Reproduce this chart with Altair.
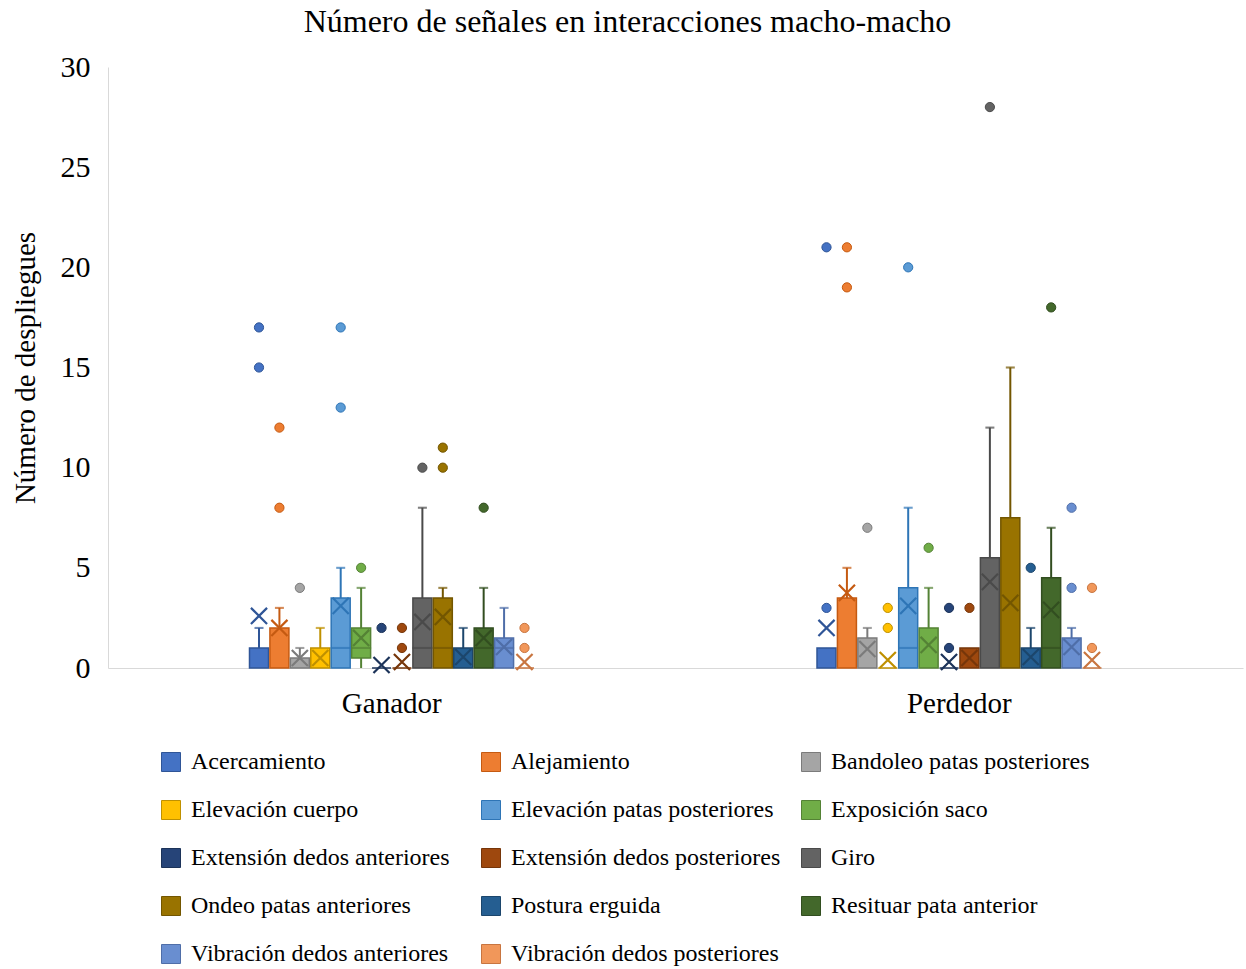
import altair as alt
import pandas as pd

FONT = "Liberation Serif"

groups = ["Ganador", "Perdedor"]
series = [
    "Acercamiento", "Alejamiento", "Bandoleo patas posteriores",
    "Elevación cuerpo", "Elevación patas posteriores", "Exposición saco",
    "Extensión dedos anteriores", "Extensión dedos posteriores", "Giro",
    "Ondeo patas anteriores", "Postura erguida", "Resituar pata anterior",
    "Vibración dedos anteriores", "Vibración dedos posteriores",
]

# Ganador statistics
g_lo = [0, 0, 0, 0, 0, 0, 0, 0, 0, 0, 0, 0, 0, 0]
g_q1 = [0, 0, 0, 0, 0, 0.5, 0, 0, 0, 0, 0, 0, 0, 0]
g_med = [0, 0, 0, 0, 1, 1, 0, 0, 1, 1, 0, 1, 1, 0]
g_q3 = [1, 2, 0.5, 1, 3.5, 2, 0, 0, 3.5, 3.5, 1, 2, 1.5, 0]
g_hi = [2, 3, 1, 2, 5, 4, 0, 0, 8, 4, 2, 4, 3, 0]
g_mean = [2.6, 2.0, 0.5, 0.5, 3.1, 1.5, 0.15, 0.3, 2.3, 2.55, 0.55, 1.5, 1.05, 0.3]
g_out = [[15, 17], [8, 12], [4], [], [13, 17], [5], [2], [1, 2], [10], [10, 11], [], [8], [], [1, 2]]

# Perdedor statistics
p_lo = [0, 0, 0, 0, 0, 0, 0, 0, 0, 0, 0, 0, 0, 0]
p_q1 = [0, 0, 0, 0, 0, 0, 0, 0, 0, 0, 0, 0, 0, 0]
p_med = [0, 0, 0, 0, 1, 0, 0, 0, 0, 0, 0, 1, 0, 0]
p_q3 = [1, 3.5, 1.5, 0, 4, 2, 0, 1, 5.5, 7.5, 1, 4.5, 1.5, 0]
p_hi = [1, 5, 2, 0, 8, 4, 0, 1, 12, 15, 2, 7, 2, 0]
p_mean = [2.0, 3.75, 0.95, 0.4, 3.1, 1.15, 0.3, 0.5, 4.3, 3.25, 0.55, 2.9, 1.05, 0.4]
p_out = [[3, 21], [19, 21], [7], [2, 3], [20], [6], [1, 3], [3], [28], [], [5], [18], [4, 8], [1, 4]]

fills = ["#4472C4", "#ED7D31", "#A5A5A5", "#FFC000", "#5B9BD5", "#70AD47",
         "#264478", "#9E480E", "#636363", "#997300", "#255E91", "#43682B",
         "#698ED0", "#F1975A"]
strokes = ["#2F5597", "#C55A11", "#7B7B7B", "#BF9000", "#2E75B6", "#548235",
           "#1C3359", "#76360A", "#4A4A4A", "#735600", "#1C466C", "#324E20",
           "#4F6EA8", "#C87540"]

rows = []
outs = []
for grp, lo, q1, med, q3, hi, mean, out in [
    ("Ganador", g_lo, g_q1, g_med, g_q3, g_hi, g_mean, g_out),
    ("Perdedor", p_lo, p_q1, p_med, p_q3, p_hi, p_mean, p_out),
]:
    for i, s in enumerate(series):
        rows.append(dict(group=grp, series=s, lo=lo[i], q1=q1[i], med=med[i],
                         q3=q3[i], hi=hi[i], mean=mean[i]))
        for v in out[i]:
            outs.append(dict(group=grp, series=s, value=v))

df = pd.DataFrame(rows)
dfo = pd.DataFrame(outs)

x_enc = alt.X("group:N", scale=alt.Scale(domain=groups, paddingInner=0, paddingOuter=0),
              axis=alt.Axis(title=None, labelAngle=0, ticks=False, domainColor="#D9D9D9",
                            domainWidth=1, labelFont=FONT, labelFontSize=29,
                            labelColor="#000000", labelPadding=21))
xo_enc = alt.XOffset("series:N", scale=alt.Scale(domain=series, range=[141.5, 426],
                                                 paddingInner=0.07, paddingOuter=0))
fill_scale = alt.Scale(domain=series, range=fills)
stroke_scale = alt.Scale(domain=series, range=strokes)

y_scale = alt.Scale(domain=[0, 30], nice=False, zero=True)
y_axis = alt.Axis(title="Número de despliegues", values=[0, 5, 10, 15, 20, 25, 30],
                  grid=False, ticks=False, domainColor="#D9D9D9", domainWidth=1,
                  labelFont=FONT, labelFontSize=30, labelColor="#000000", labelPadding=18,
                  titleFont=FONT, titleFontSize=29, titleFontWeight="normal",
                  titleColor="#000000", titlePadding=20)

legend = alt.Legend(title=None, orient="none", legendX=51, legendY=683,
                    direction="horizontal", columns=3, gridAlign="all",
                    symbolType="square", symbolSize=361, symbolStrokeWidth=1,
                    symbolOpacity=1,
                    labelFont=FONT, labelFontSize=24, labelColor="#000000",
                    labelOffset=8, columnPadding=18, rowPadding=24,
                    labelLimit=400)

stroke_enc = alt.Stroke("series:N", scale=stroke_scale, title=None)

base = alt.Chart(df)

whisk = base.mark_rule(strokeWidth=2).encode(
    x=x_enc, xOffset=xo_enc,
    y=alt.Y("lo:Q", scale=y_scale, axis=y_axis), y2="hi:Q",
    stroke=stroke_enc,
)

caps_hi = base.transform_filter("datum.hi > datum.q3").mark_tick(
    size=7, thickness=0.1, filled=False, strokeWidth=2).encode(
    x=x_enc, xOffset=xo_enc, y=alt.Y("hi:Q", scale=y_scale),
    stroke=stroke_enc,
)

boxes = base.mark_bar(strokeWidth=1.5).encode(
    x=x_enc, xOffset=xo_enc,
    y=alt.Y("q1:Q", scale=y_scale), y2="q3:Q",
    fill=alt.Fill("series:N", scale=fill_scale, title=None, legend=legend),
    stroke=alt.Stroke("series:N", scale=stroke_scale, title=None, legend=legend),
)

medians = base.transform_filter("datum.med > datum.q1 && datum.med < datum.q3").mark_tick(
    size=18, thickness=0.1, filled=False, strokeWidth=2).encode(
    x=x_enc, xOffset=xo_enc, y=alt.Y("med:Q", scale=y_scale),
    stroke=stroke_enc,
)

means = base.mark_point(shape="M-1,-1L1,1M-1,1L1,-1", size=260, filled=False,
                        strokeWidth=2.2, opacity=1).encode(
    x=x_enc, xOffset=xo_enc, y=alt.Y("mean:Q", scale=y_scale),
    stroke=stroke_enc,
)

outliers = alt.Chart(dfo).mark_point(shape="circle", size=85, filled=True, opacity=1,
                                     strokeWidth=1).encode(
    x=x_enc, xOffset=xo_enc, y=alt.Y("value:Q", scale=y_scale),
    fill=alt.Fill("series:N", scale=fill_scale, title=None),
    stroke=stroke_enc,
)

chart = alt.layer(whisk, boxes, medians, caps_hi, means, outliers).properties(
    width=1135, height=601,
    background="white",
    autosize=alt.AutoSizeParams(type="none"),
    padding={"left": 108, "top": 67, "right": 3, "bottom": 301},
    title=alt.TitleParams(text="Número de señales en interacciones macho-macho",
                          font=FONT, fontSize=32, fontWeight="normal", color="#000000",
                          anchor="middle", dx=-48, offset=13),
).configure_view(strokeWidth=0)

chart.save("out.html", embed_options={"renderer": "svg", "actions": False})
